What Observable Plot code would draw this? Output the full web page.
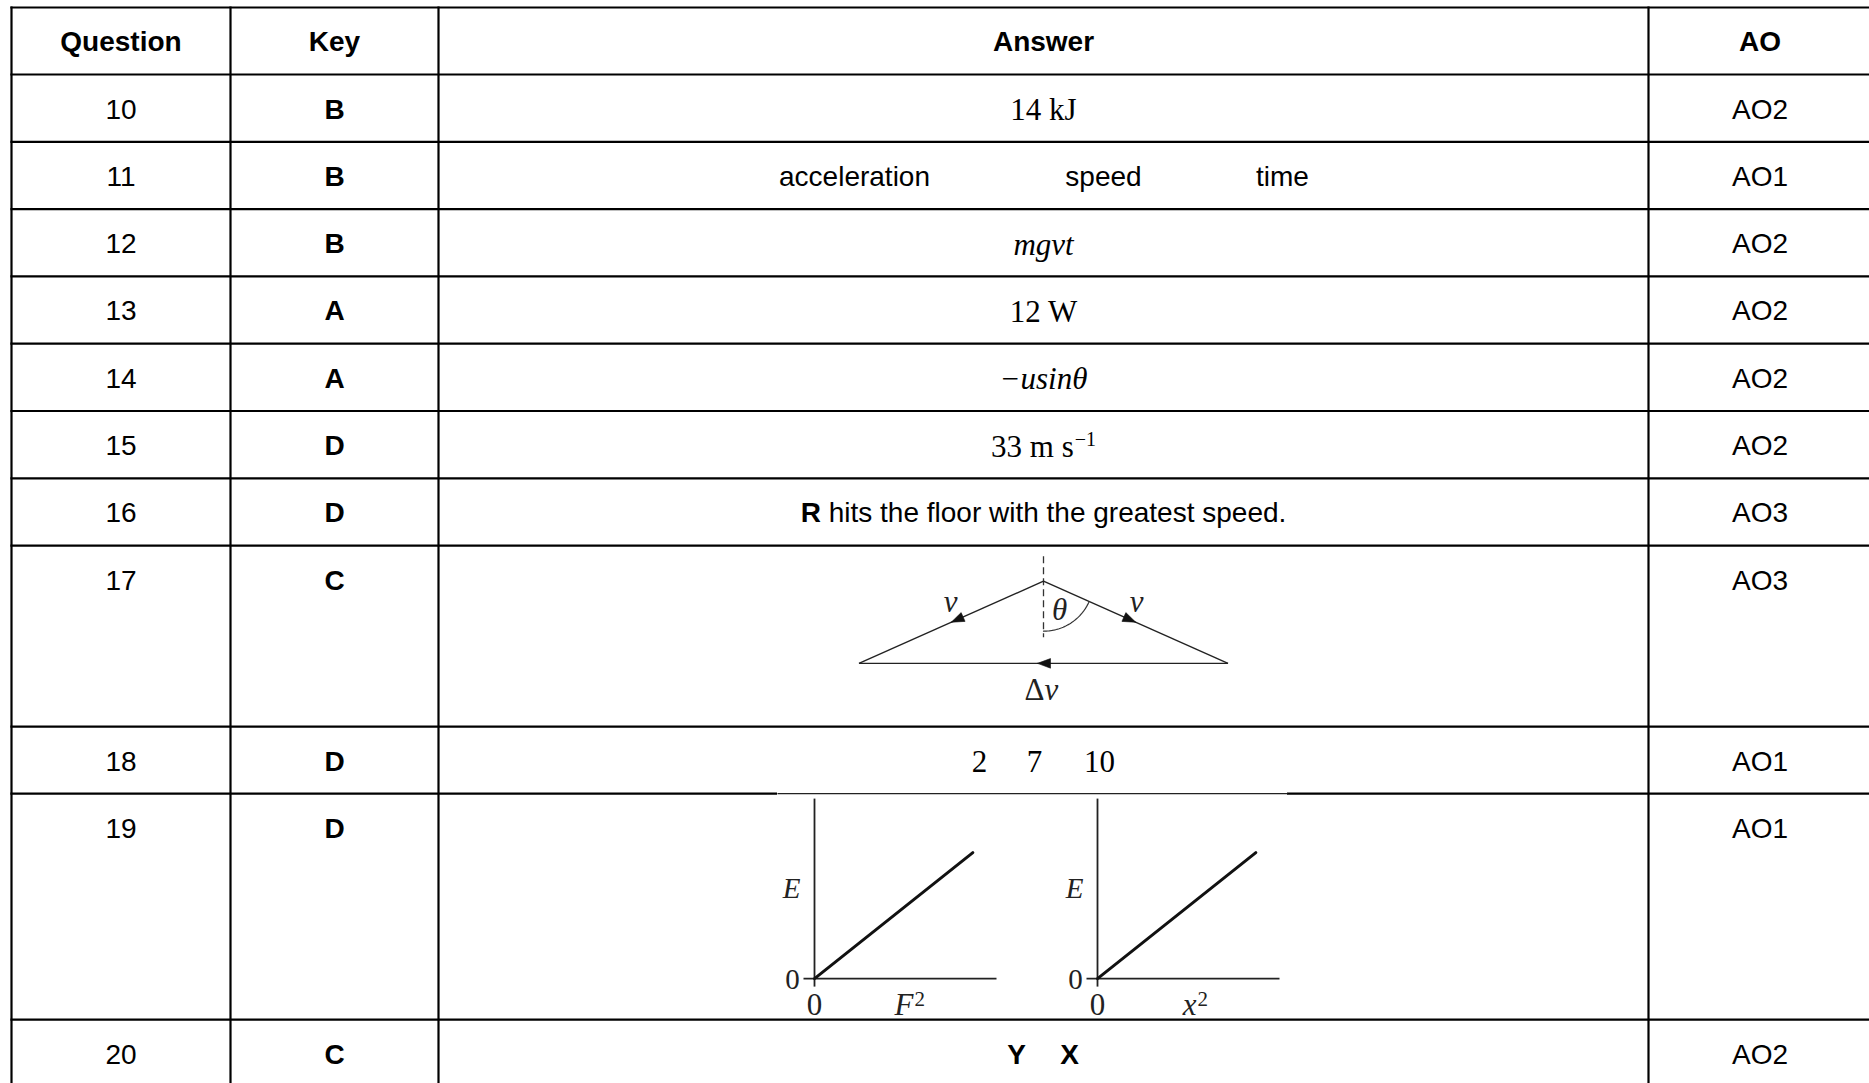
<!DOCTYPE html>
<html>
<head>
<meta charset="utf-8">
<script src="https://cdn.jsdelivr.net/npm/d3@7"></script>
<script src="https://cdn.jsdelivr.net/npm/@observablehq/plot@0.6"></script>
<style>
html, body { margin: 0; padding: 0; background: #fff; overflow: hidden; }
#chart svg { display: block; }
</style>
</head>
<body>
<div id="chart"></div>
<script>
// ---------------- DATA ----------------
const headers = ["Question", "Key", "Answer", "AO"];
const questions = ["10", "11", "12", "13", "14", "15", "16", "17", "18", "19", "20"];
const keys = ["B", "B", "B", "A", "A", "D", "D", "C", "D", "D", "C"];
const aos = ["AO2", "AO1", "AO2", "AO2", "AO2", "AO2", "AO3", "AO3", "AO1", "AO1", "AO2"];
const answer10 = "14 kJ";
const answer11 = ["acceleration", "speed", "time"];
const answer12 = "mgvt";
const answer13 = "12 W";
const answer14 = "\u2212usin\u03B8";
const answer15 = ["33 m s", "\u22121"];
const answer16 = ["R", " hits the floor with the greatest speed."];
const answer18 = ["2", "7", "10"];
const answer20 = ["Y", "X"];
// Q17 vector diagram: angle between the vertical and each v (degrees)
const diagramTheta = 66;
const diagramLabels = ["v", "v", "\u03B8", "\u0394", "v"];
// Q19 graphs: E against F^2 and against x^2 (straight line through origin)
const graphYLabel = "E";
const graphXLabels = ["F", "x"];
const graphSup = "2";
const graphLine = [[0, 0], [0.87, 0.70]];
const graphZero = "0";

// ---------------- LAYOUT ----------------
const W = 1869, H = 1083;
const SANS = "'Liberation Sans', Arial, Helvetica, sans-serif";
const SERIF = "'Liberation Serif', 'Times New Roman', Times, serif";
const colEdges = [11, 230, 438, 1648, 1871];
const tableTop = 7;
const rowHeights = [67, 67.3, 67.3, 67.3, 67.3, 67.3, 67.3, 67.3, 181, 67, 226, 67];
const rowEdges = [tableTop];
rowHeights.forEach(h => rowEdges.push(rowEdges[rowEdges.length - 1] + h));
const colCenter = i => (colEdges[i] + colEdges[i + 1]) / 2;
const rowTopQ = q => rowEdges[questions.indexOf(q) + 1];
const cx = colCenter(2);
const wordOffsets11 = [-189, 60, 239];
const wordOffsets18 = [-64, -9, 56];
const wordOffsets20 = [-27, 26];

const ctx = document.createElement("canvas").getContext("2d");
const measure = (s, font) => { ctx.font = font; return ctx.measureText(s).width; };

// ---------------- TEXT ITEMS ----------------
const headerItems = headers.map((h, i) => ({x: colCenter(i), y: tableTop + 43, t: h}));
const sansMid = [], boldMid = [], serifMid = [], serifItalMid = [];
const sansStart = [], boldStart = [], serifStart = [], supStart = [];

questions.forEach((q, i) => {
  const top = rowEdges[i + 1];
  sansMid.push({x: colCenter(0), y: top + 44, t: q});
  boldMid.push({x: colCenter(1), y: top + 44, t: keys[i]});
  sansMid.push({x: colCenter(3), y: top + 44, t: aos[i]});
});
const sb = q => rowTopQ(q) + 44;   // sans baseline
const fb = q => rowTopQ(q) + 45.5; // serif baseline
serifMid.push({x: cx, y: fb("10"), t: answer10});
answer11.forEach((w, i) => sansMid.push({x: cx + wordOffsets11[i], y: sb("11"), t: w}));
serifItalMid.push({x: cx, y: fb("12"), t: answer12});
serifMid.push({x: cx, y: fb("13"), t: answer13});
serifItalMid.push({x: cx, y: fb("14"), t: answer14});
{
  const wMain = measure(answer15[0], `31px ${SERIF}`);
  const wSup = measure(answer15[1], `20px ${SERIF}`);
  const start = cx - (wMain + 1 + wSup) / 2;
  serifStart.push({x: start, y: fb("15"), t: answer15[0]});
  supStart.push({x: start + wMain + 1, y: fb("15") - 11, t: answer15[1]});
}
{
  const wR = measure(answer16[0], `bold 28px ${SANS}`);
  const wRest = measure(answer16[1], `28px ${SANS}`);
  const start = cx - (wR + wRest) / 2;
  boldStart.push({x: start, y: sb("16"), t: answer16[0]});
  sansStart.push({x: start + wR, y: sb("16"), t: answer16[1]});
}
answer18.forEach((w, i) => serifMid.push({x: cx + wordOffsets18[i], y: fb("18"), t: w}));
answer20.forEach((w, i) => boldMid.push({x: cx + wordOffsets20[i], y: sb("20"), t: w}));

// ---------------- TABLE LINES ----------------
const tableLines = [
  ...rowEdges.map(y => ({x1: colEdges[0], x2: colEdges[4], y1: y, y2: y})),
  ...colEdges.map(x => ({x1: x, x2: x, y1: tableTop, y2: rowEdges[rowEdges.length - 1]}))
];

// ---------------- Q17 DIAGRAM ----------------
const th = diagramTheta * Math.PI / 180;
const vLen = 202;
const apex = [cx, rowTopQ("17") + 35.6];
const pLeft = [apex[0] - vLen * Math.sin(th), apex[1] + vLen * Math.cos(th)];
const pRight = [apex[0] + vLen * Math.sin(th), apex[1] + vLen * Math.cos(th)];
const diagLines = [
  {x1: apex[0], y1: apex[1], x2: pLeft[0], y2: pLeft[1]},
  {x1: apex[0], y1: apex[1], x2: pRight[0], y2: pRight[1]},
  {x1: pLeft[0], y1: pLeft[1], x2: pRight[0], y2: pRight[1]}
];
const dashLine = [{x1: apex[0], y1: apex[1] - 25, x2: apex[0], y2: apex[1] + 56}];
function arrowHead(id, tip, dir, L = 13, hw = 4.8) {
  const n = Math.hypot(dir[0], dir[1]);
  const d = [dir[0] / n, dir[1] / n], p = [-d[1], d[0]];
  const b = [tip[0] - L * d[0], tip[1] - L * d[1]];
  return [tip, [b[0] + hw * p[0], b[1] + hw * p[1]], [b[0] - hw * p[0], b[1] - hw * p[1]], tip]
    .map(([x, y]) => ({id, x, y}));
}
const lerp = (a, b, t) => [a[0] + (b[0] - a[0]) * t, a[1] + (b[1] - a[1]) * t];
const arrows = [
  ...arrowHead("l", lerp(apex, pLeft, 0.5), [pLeft[0] - apex[0], pLeft[1] - apex[1]]),
  ...arrowHead("r", lerp(apex, pRight, 0.5), [pRight[0] - apex[0], pRight[1] - apex[1]]),
  ...arrowHead("b", [cx - 6, pLeft[1]], [-1, 0])
];
const arcR = 50;
const arcPts = d3.range(0, 41).map(k => {
  const f = th * k / 40;
  return {x: apex[0] + arcR * Math.sin(f), y: apex[1] + arcR * Math.cos(f)};
});
const diagItal = [
  {x: apex[0] - 93, y: apex[1] + 31, t: diagramLabels[0]},
  {x: apex[0] + 93, y: apex[1] + 31, t: diagramLabels[1]},
  {x: apex[0] + 16, y: apex[1] + 39, t: diagramLabels[2]}
];
const diagDeltaEnd = [{x: cx + 1, y: pLeft[1] + 37, t: diagramLabels[3]}];
const diagVStart = [{x: cx + 1, y: pLeft[1] + 37, t: diagramLabels[4]}];

// ---------------- Q19 GRAPHS ----------------
const graphOffsets = [-229, 54];
const gxLen = 182, gyLen = 180;
const graphAxes = [], graphLines = [], gItalMid = [], gItalEnd = [], gZeroMid = [], gZeroX = [], gSupStart = [];
graphXLabels.forEach((lab, g) => {
  const ox = cx + graphOffsets[g], oy = rowTopQ("19") + 185;
  const sx = d3.scaleLinear().domain([0, 1]).range([ox, ox + gxLen]);
  const sy = d3.scaleLinear().domain([0, 1]).range([oy, oy - gyLen]);
  graphAxes.push({x1: ox, y1: oy + 8, x2: ox, y2: sy(1)});
  graphAxes.push({x1: ox - 11, y1: oy, x2: sx(1), y2: oy});
  graphLine.forEach(([a, b]) => graphLines.push({id: g, x: sx(a), y: sy(b)}));
  gItalMid.push({x: ox - 23, y: oy - 81, t: graphYLabel});
  gZeroMid.push({x: ox - 22, y: oy + 10, t: graphZero});
  gZeroX.push({x: ox, y: oy + 36, t: graphZero});
  gItalEnd.push({x: ox + 99, y: oy + 36, t: lab});
  gSupStart.push({x: ox + 100, y: oy + 27, t: graphSup});
});

// ---------------- PLOT ----------------
const T = (data, opts) => Plot.text(data, {x: "x", y: "y", text: "t", lineAnchor: "bottom", fill: "black", ...opts});
const seg = (data, opts) => Plot.link(data, {x1: "x1", y1: "y1", x2: "x2", y2: "y2", ...opts});

const chart = Plot.plot({
  width: W, height: H,
  margin: 0,
  x: {type: "linear", domain: [0, W], range: [0, W], axis: null},
  y: {type: "linear", domain: [0, H], range: [0, H], axis: null},
  style: {background: "white"},
  marks: [
    seg(tableLines, {stroke: "black", strokeWidth: 2.2, strokeLinecap: "square"}),
    // image background partially covering the row line above Q19
    Plot.rect([{x1: 777, x2: 1287, y1: rowTopQ("19") - 1.5, y2: rowTopQ("19") + 2}], {x1: "x1", x2: "x2", y1: "y1", y2: "y2", fill: "white"}),
    seg([{x1: 777, x2: 1287, y1: rowTopQ("19"), y2: rowTopQ("19")}], {stroke: "#222", strokeWidth: 1.2}),
    // headers and cells
    T(headerItems, {fontFamily: SANS, fontSize: 28, fontWeight: "bold", textAnchor: "middle"}),
    T(sansMid, {fontFamily: SANS, fontSize: 28, textAnchor: "middle"}),
    T(boldMid, {fontFamily: SANS, fontSize: 28, fontWeight: "bold", textAnchor: "middle"}),
    T(sansStart, {fontFamily: SANS, fontSize: 28, textAnchor: "start"}),
    T(boldStart, {fontFamily: SANS, fontSize: 28, fontWeight: "bold", textAnchor: "start"}),
    T(serifMid, {fontFamily: SERIF, fontSize: 31, textAnchor: "middle"}),
    T(serifItalMid, {fontFamily: SERIF, fontSize: 31, fontStyle: "italic", textAnchor: "middle"}),
    T(serifStart, {fontFamily: SERIF, fontSize: 31, textAnchor: "start"}),
    T(supStart, {fontFamily: SERIF, fontSize: 20, textAnchor: "start"}),
    // Q17 diagram
    seg(dashLine, {stroke: "#333", strokeWidth: 1.3, strokeDasharray: "7,4"}),
    seg(diagLines, {stroke: "#222", strokeWidth: 1.4}),
    Plot.line(arcPts, {x: "x", y: "y", stroke: "#333", strokeWidth: 1.2}),
    Plot.line(arrows, {x: "x", y: "y", z: "id", fill: "#111", stroke: "#111", strokeWidth: 0.6}),
    T(diagItal, {fontFamily: SERIF, fontSize: 31, fontStyle: "italic", textAnchor: "middle", fill: "#222"}),
    T(diagDeltaEnd, {fontFamily: SERIF, fontSize: 31, textAnchor: "end", fill: "#222"}),
    T(diagVStart, {fontFamily: SERIF, fontSize: 31, fontStyle: "italic", textAnchor: "start", fill: "#222"}),
    // Q19 graphs
    seg(graphAxes, {stroke: "#222", strokeWidth: 1.8}),
    Plot.line(graphLines, {x: "x", y: "y", z: "id", stroke: "#111", strokeWidth: 3}),
    T(gItalMid, {fontFamily: SERIF, fontSize: 29, fontStyle: "italic", textAnchor: "middle", fill: "#222"}),
    T(gZeroMid, {fontFamily: SERIF, fontSize: 29, textAnchor: "middle", fill: "#222"}),
    T(gZeroX, {fontFamily: SERIF, fontSize: 31, textAnchor: "middle", fill: "#222"}),
    T(gItalEnd, {fontFamily: SERIF, fontSize: 31, fontStyle: "italic", textAnchor: "end", fill: "#222"}),
    T(gSupStart, {fontFamily: SERIF, fontSize: 21, textAnchor: "start", fill: "#222"})
  ]
});
document.getElementById("chart").appendChild(chart);
</script>
</body>
</html>
